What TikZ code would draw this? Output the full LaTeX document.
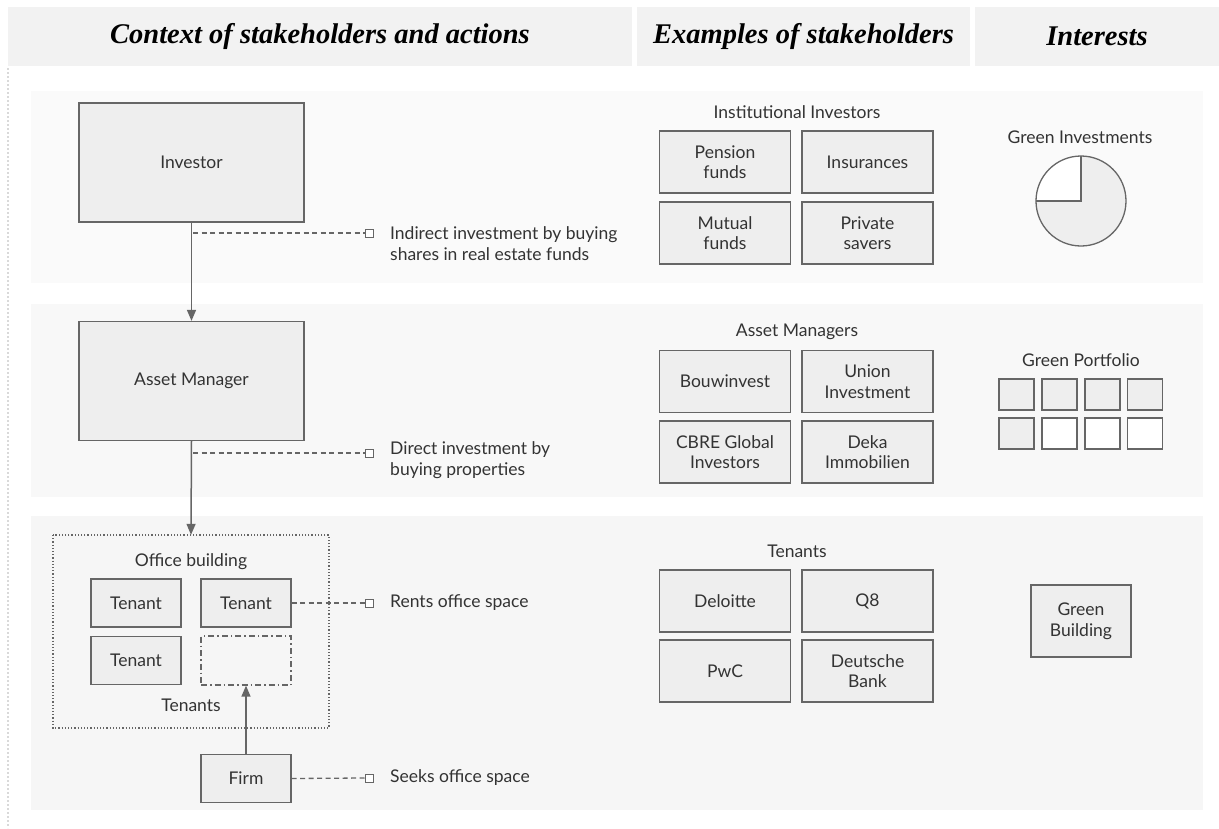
\documentclass[tikz,border=0pt]{standalone}
\usepackage{fontspec}
\setmainfont{Lato}
\newfontfamily\headfont{Liberation Serif}
\usetikzlibrary{arrows.meta}
\definecolor{linec}{HTML}{666666}
\definecolor{boxfill}{HTML}{EEEEEE}
\definecolor{hdrfill}{HTML}{F2F2F2}
\definecolor{bandA}{HTML}{FAFAFA}
\definecolor{bandB}{HTML}{F8F8F8}
\definecolor{bandC}{HTML}{F6F6F6}
\definecolor{textc}{HTML}{333333}
\begin{document}
\begin{tikzpicture}[x=1pt,y=-1pt,
  bodytext/.style={text=textc,font=\fontsize{17.5}{20.5}\selectfont,inner sep=0pt},
  hdr/.style={fill=hdrfill,inner sep=0pt,minimum height=59pt,text=black,
    font=\headfont\bfseries\itshape\fontsize{28.5}{30}\selectfont},
  band/.style={inner sep=0pt,minimum width=1172pt},
  sbox/.style={draw=linec,fill=boxfill,line width=1.3pt,inner sep=0pt,align=center,
    text=textc,font=\fontsize{17.5}{20.5}\selectfont},
  bigbox/.style={sbox,minimum width=225pt,minimum height=119pt},
  tbox/.style={sbox,minimum width=90pt,minimum height=48pt},
  ebox/.style={sbox,minimum width=131pt,minimum height=62pt},
  pbox/.style={draw=linec,line width=1.3pt,minimum width=35pt,minimum height=31pt,inner sep=0pt},
  endsq/.style={draw=linec,fill=white,line width=1pt,minimum size=8pt,inner sep=0pt},
  conn/.style={draw=linec,line width=1.3pt,dashed,dash pattern=on 5pt off 3.5pt},
  flow/.style={draw=linec,line width=1.5pt,-{Triangle[length=11pt,width=9pt]}},
  note/.style={bodytext,anchor=west,align=left}
]
\useasboundingbox (0,0) rectangle (1219,828);
% header bars
\node[hdr,minimum width=624pt] (h1) at (320,36.5) {Context of stakeholders and actions};
\node[hdr,minimum width=333pt] (h2) at (803.5,36.5) {Examples of stakeholders};
\node[hdr,minimum width=244pt] (h3) at (1097,36.5) {Interests};
\draw[draw=black!15,line width=2pt,dotted] (8,68) -- (8,828);
% bands
\node[band,fill=bandA,minimum height=192pt] (b1) at (617,187) {};
\node[band,fill=bandB,minimum height=193pt] (b2) at (617,400.5) {};
\node[band,fill=bandC,minimum height=294pt] (b3) at (617,663) {};
% left column
\node[bigbox] (inv) at (191.5,162.5) {Investor};
\node[bigbox] (am) at (191.5,381) {Asset Manager};
\draw[draw=linec,line width=1.2pt,dotted] (53,535) rectangle (329,728);
\node[inner sep=0pt,minimum width=276pt,minimum height=193pt] (office) at (191,631.5) {};
\node[bodytext] (offlbl) at (191,562) {Office building};
\node[tbox] (ten1) at (136,603) {Tenant};
\node[tbox] (ten2) at (246,603) {Tenant};
\node[tbox] (ten3) at (136,660.5) {Tenant};
\node[draw=linec,line width=1.3pt,dash pattern=on 6pt off 3pt on 1.5pt off 3pt,
  minimum width=90pt,minimum height=49pt,inner sep=0pt] (slot) at (246,660.5) {};
\node[bodytext] (tenlbl) at (191,705) {Tenants};
\node[tbox] (firm) at (246,778.5) {Firm};
% flows
\draw[flow] (inv.south) -- (am.north);
\draw[flow] (am.south) -- (office.north);
\draw[flow] (firm.north) -- (slot.south);
% dashed notes
\coordinate (c1) at (193,233);
\node[endsq] (sq1) at (369,233) {};
\draw[conn] (c1) -- (sq1.west);
\node[note] (n1) at (390,243.5) {Indirect investment by buying\\shares in real estate funds};
\coordinate (c2) at (193,453);
\node[endsq] (sq2) at (369,453) {};
\draw[conn] (c2) -- (sq2.west);
\node[note] (n2) at (390,460) {Direct investment by\\buying properties};
\node[endsq] (sq3) at (369,603) {};
\draw[conn] (ten2.east) -- (sq3.west);
\node[note] (n3) at (390,603) {Rents office space};
\node[endsq] (sq4) at (369,778) {};
\draw[conn] (firm.east) -- (sq4.west);
\node[note] (n4) at (390,778) {Seeks office space};
% examples column
\node[bodytext] (e1) at (797,112) {Institutional Investors};
\node[ebox] (pf) at (725,162) {Pension\\funds};
\node[ebox] (ins) at (867.5,162) {Insurances};
\node[ebox] (mf) at (725,233) {Mutual\\funds};
\node[ebox] (ps) at (867.5,233) {Private\\savers};
\node[bodytext] (e2) at (797,332) {Asset Managers};
\node[ebox] (bw) at (725,381.5) {Bouwinvest};
\node[ebox] (ui) at (867.5,381.5) {Union\\Investment};
\node[ebox] (cb) at (725,452) {CBRE Global\\Investors};
\node[ebox] (dk) at (867.5,452) {Deka\\Immobilien};
\node[bodytext] (e3) at (797,551) {Tenants};
\node[ebox] (dl) at (725,601) {Deloitte};
\node[ebox] (q8) at (867.5,601) {Q8};
\node[ebox] (pw) at (725,671) {PwC};
\node[ebox] (db) at (867.5,671) {Deutsche\\Bank};
% interests column
\node[bodytext] (g1) at (1080,137) {Green Investments};
\coordinate (pc) at (1081,201);
\fill[boxfill] (pc) circle[radius=45pt];
\fill[white] (pc) -- (1081,156) arc[start angle=90,end angle=180,radius=45pt] -- cycle;
\draw[linec,line width=1.3pt] (pc) circle[radius=45pt];
\draw[linec,line width=1.3pt] (1081,156) -- (pc) -- (1036,201);
\node[bodytext] (g2) at (1081,360) {Green Portfolio};
\node[pbox,fill=boxfill] (p1) at (1016.5,394.5) {};
\node[pbox,fill=boxfill] (p2) at (1059.5,394.5) {};
\node[pbox,fill=boxfill] (p3) at (1102.5,394.5) {};
\node[pbox,fill=boxfill] (p4) at (1145,394.5) {};
\node[pbox,fill=boxfill] (p5) at (1016.5,433.5) {};
\node[pbox,fill=white] (p6) at (1059.5,433.5) {};
\node[pbox,fill=white] (p7) at (1102.5,433.5) {};
\node[pbox,fill=white] (p8) at (1145,433.5) {};
\node[sbox,minimum width=100pt,minimum height=72pt] (gb) at (1081,621) {Green\\Building};
\end{tikzpicture}
\end{document}
